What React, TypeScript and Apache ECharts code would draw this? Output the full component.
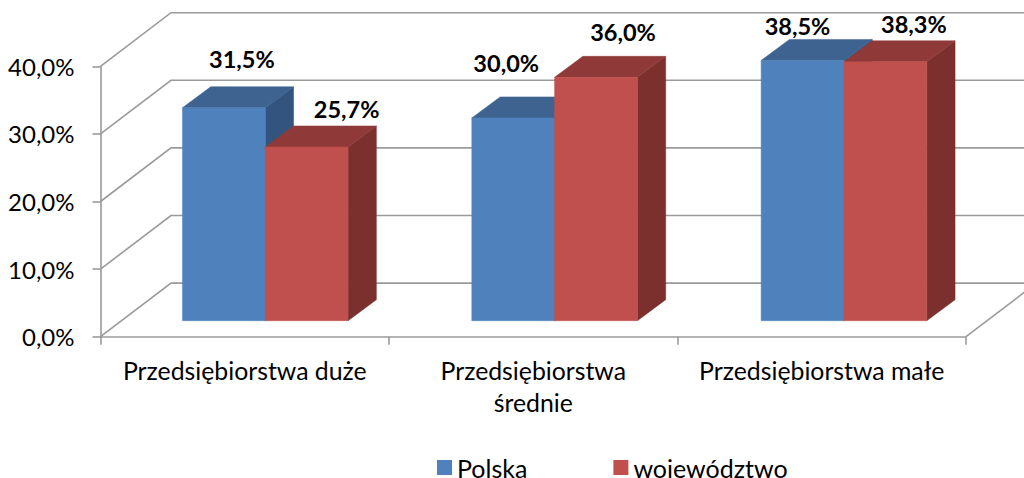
import React, { useEffect, useRef } from "react";
import * as echarts from "echarts";

const categories = ["Przedsiębiorstwa duże", "Przedsiębiorstwa\nśrednie", "Przedsiębiorstwa małe"];
const polska = [31.5, 30.0, 38.5];
const wojewodztwo = [25.7, 36.0, 38.3];
const wallTicks = [0, 10, 20, 30, 40];
const polskaLabelOffsets = [[18, -49], [-7, -55], [-5, -34]];
const wojLabelOffsets = [[40, -38], [27, -45], [28.5, -38]];

const FONT = "Lato";
const GREY = "#9a9a9a";
const pct = (v: number) => v.toFixed(1).replace(".", ",") + "%";

const BAR_W = 82.8;
const GROUP_DX = 20.5;
const GROUP_DRIFT = 0.85;
const FRONT_DY = 16;
const BAR_DX = 28.3;
const BAR_DY = 21;
const WALL_DX = 70.5;
const WALL_DY = 53.6;

function barRenderer(side: number, offsets: number[][], front: string, top: string, right: string) {
  return (params: any, api: any) => {
    const i = api.value(0);
    const v = api.value(1);
    const base = api.coord([i, 0]);
    const head = api.coord([i, v]);
    const x0 = base[0] + GROUP_DX + i * GROUP_DRIFT + (side === 0 ? -BAR_W : 0);
    const x1 = x0 + BAR_W;
    const yb = base[1] - FRONT_DY;
    const yt = head[1] - FRONT_DY;
    const poly = (points: number[][], fill: string) => ({
      type: "polygon",
      shape: { points },
      style: { fill, stroke: fill, lineWidth: 0.5 },
    });
    return {
      type: "group",
      children: [
        poly([[x1, yb], [x1 + BAR_DX, yb - BAR_DY], [x1 + BAR_DX, yt - BAR_DY], [x1, yt]], right),
        poly([[x0, yt], [x1, yt], [x1 + BAR_DX, yt - BAR_DY], [x0 + BAR_DX, yt - BAR_DY]], top),
        poly([[x0, yb], [x1, yb], [x1, yt], [x0, yt]], front),
        {
          type: "text",
          z2: 10,
          x: (x0 + x1) / 2 + offsets[i][0],
          y: yt + offsets[i][1],
          style: {
            text: pct(v),
            fill: "#000",
            font: `bold 23.5px ${FONT}`,
            align: "center",
            verticalAlign: "middle",
          },
        },
      ],
    };
  };
}

const wallRenderer = (params: any, api: any) => {
  const v = api.value(1);
  const cs = params.coordSys;
  const y = api.coord([0, v])[1];
  const left = cs.x;
  const right = cs.x + cs.width;
  const stroke = { stroke: GREY, lineWidth: 1.6, fill: "none" };
  const children: any[] = [
    {
      type: "polyline",
      shape: { points: [[left, y], [left + WALL_DX, y - WALL_DY], [right + WALL_DX, y - WALL_DY]] },
      style: stroke,
    },
  ];
  if (v === 0) {
    children.push({
      type: "line",
      shape: { x1: right, y1: y, x2: right + WALL_DX, y2: y - WALL_DY },
      style: stroke,
    });
  }
  return { type: "group", children };
};

export default function App() {
  const ref = useRef<HTMLDivElement>(null);
  useEffect(() => {
    const chart = echarts.init(ref.current!, null, { renderer: "svg" });
    chart.setOption({
      animation: false,
      backgroundColor: "#fff",
      textStyle: { fontFamily: FONT },
      grid: { left: 100.5, right: 58, top: 66.3, bottom: 141.3 },
      legend: {
        data: ["Polska", "województwo"],
        left: 432,
        top: 450,
        itemWidth: 15,
        itemHeight: 15,
        itemGap: 86,
        icon: "rect",
        textStyle: { fontFamily: FONT, fontSize: 25, color: "#000", padding: [0, 0, 3, 0] },
      },
      xAxis: {
        type: "category",
        data: categories,
        axisLine: { lineStyle: { color: GREY, width: 1.6 } },
        axisTick: { show: true, length: 8, alignWithLabel: false, lineStyle: { color: GREY, width: 1.6 } },
        axisLabel: {
          color: "#000",
          fontFamily: FONT,
          fontSize: 24.8,
          margin: 18,
          lineHeight: 32,
          interval: 0,
        },
      },
      yAxis: {
        type: "value",
        min: 0,
        max: 40,
        interval: 10,
        splitLine: { show: false },
        axisLine: { show: true, lineStyle: { color: GREY, width: 1.6 } },
        axisTick: { show: true, length: 8, lineStyle: { color: GREY, width: 1.6 } },
        axisLabel: {
          color: "#000",
          fontFamily: FONT,
          fontSize: 24,
          margin: 26,
          formatter: (v: number) => pct(v),
        },
      },
      series: [
        {
          type: "custom",
          name: "walls",
          silent: true,
          z: 1,
          renderItem: wallRenderer,
          encode: { x: 0, y: 1 },
          data: wallTicks.map((v) => [0, v]),
        },
        {
          type: "custom",
          name: "Polska",
          z: 2,
          itemStyle: { color: "#4F81BD" },
          renderItem: barRenderer(0, polskaLabelOffsets, "#4F81BD", "#3E6390", "#33547F"),
          encode: { x: 0, y: 1 },
          data: polska.map((v, i) => [i, v]),
        },
        {
          type: "custom",
          name: "województwo",
          z: 3,
          itemStyle: { color: "#C0504D" },
          renderItem: barRenderer(1, wojLabelOffsets, "#C0504D", "#8F3A38", "#7B302E"),
          encode: { x: 0, y: 1 },
          data: wojewodztwo.map((v, i) => [i, v]),
        },
      ],
    });
    return () => chart.dispose();
  }, []);
  return <div ref={ref} style={{ position: "absolute", left: 0, top: 0, width: 1024, height: 478 }} />;
}
